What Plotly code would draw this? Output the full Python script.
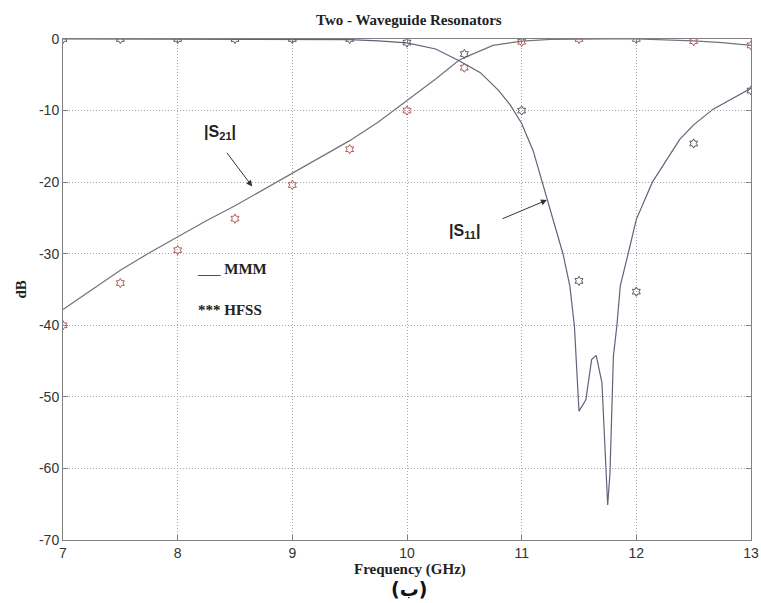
import plotly.graph_objects as go

# ---- data ----
freq_s21 = [7.0, 7.25, 7.5, 7.75, 8.0, 8.25, 8.5, 8.75, 9.0, 9.25, 9.5, 9.75, 10.0,
            10.25, 10.45, 10.5, 10.75, 11.0, 11.25, 11.5, 11.75, 12.0, 12.25, 12.5, 12.75, 13.0]
s21_mmm = [-37.8, -35.0, -32.3, -29.9, -27.6, -25.4, -23.3, -21.0, -18.7, -16.5, -14.2, -11.6, -8.6,
           -5.6, -3.0, -2.6, -0.9, -0.3, -0.06, 0.0, 0.0, 0.0, -0.1, -0.25, -0.5, -0.9]

freq_s11 = [7.0, 8.0, 9.0, 9.25, 9.5, 9.75, 10.0, 10.25, 10.45, 10.64, 10.8, 10.9, 11.0, 11.1,
            11.18, 11.25, 11.30, 11.36, 11.42, 11.46, 11.50, 11.56, 11.61, 11.65, 11.70, 11.75, 11.77,
            11.80, 11.83, 11.86, 11.93, 12.0, 12.14, 12.38, 12.5, 12.67, 13.0]
s11_mmm = [0.0, 0.0, 0.0, -0.02, -0.1, -0.25, -0.55, -1.4, -3.0, -4.7, -7.2, -9.2, -11.8, -15.6,
           -20.0, -24.0, -26.5, -30.0, -34.5, -40.1, -52.0, -50.4, -44.8, -44.2, -48.0, -65.1, -60.7,
           -44.3, -40.1, -34.5, -29.9, -25.2, -20.0, -14.0, -12.0, -9.8, -6.9]

freq_hfss = [7.0, 7.5, 8.0, 8.5, 9.0, 9.5, 10.0, 10.5, 11.0, 11.5, 12.0, 12.5, 13.0]
s21_hfss = [-40.0, -34.1, -29.5, -25.1, -20.4, -15.4, -10.0, -4.0, -0.4, 0.0, 0.0, -0.3, -0.9]
s11_hfss = [0.0, 0.0, 0.0, 0.0, 0.0, 0.0, -0.5, -2.1, -10.0, -33.8, -35.3, -14.6, -7.2]

x_ticks = [7, 8, 9, 10, 11, 12, 13]
x_ticklabels = ["7", "8", "9", "10", "11", "12", "13"]
y_ticks = [0, -10, -20, -30, -40, -50, -60, -70]
y_ticklabels = ["0", "-10", "-20", "-30", "-40", "-50", "-60", "-70"]

fig = go.Figure()
fig.add_trace(go.Scatter(x=freq_s21, y=s21_mmm, mode="lines",
                         line=dict(color="#727280", width=1.2), showlegend=False))
fig.add_trace(go.Scatter(x=freq_s11, y=s11_mmm, mode="lines",
                         line=dict(color="#62627a", width=1.2), showlegend=False))
fig.add_trace(go.Scatter(x=freq_hfss, y=s11_hfss, mode="markers",
                         marker=dict(symbol="hexagram-open", size=7, color="#5a5a5a",
                                     line=dict(width=1)), showlegend=False))
fig.add_trace(go.Scatter(x=freq_hfss, y=s21_hfss, mode="markers",
                         marker=dict(symbol="hexagram-open", size=7, color="#b05a5a",
                                     line=dict(width=1)), showlegend=False))

axis_common = dict(showline=True, linecolor="#808080", linewidth=1, mirror="ticks",
                   ticks="inside", ticklen=5, tickcolor="#808080",
                   showgrid=True, gridcolor="#a8a8a8", griddash="1px,2px", gridwidth=1,
                   zeroline=False, automargin=False,
                   tickfont=dict(family="Liberation Sans, Arial", size=14, color="#333333"))

fig.update_xaxes(range=[7, 13], tickvals=x_ticks, ticktext=x_ticklabels, **axis_common)
fig.update_yaxes(range=[-70, 0], tickvals=y_ticks, ticktext=y_ticklabels, **axis_common)

serif_b = dict(family="Liberation Serif, Times New Roman", size=15, color="#222222")
sans_b = dict(family="Liberation Sans, Arial", size=16, color="#222222")

annotations = [
    # title
    dict(text="<b>Two - Waveguide Resonators</b>", xref="paper", yref="paper",
         x=0.503, y=1.037, xanchor="center", yanchor="middle", showarrow=False, font=serif_b),
    # x axis title
    dict(text="<b>Frequency (GHz)</b>", xref="paper", yref="paper",
         x=0.505, y=-0.058, xanchor="center", yanchor="middle", showarrow=False, font=serif_b),
    # label below
    dict(text="<b>(ب)</b>", xref="paper", yref="paper",
         x=0.503, y=-0.098, xanchor="center", yanchor="middle", showarrow=False,
         font=dict(family="DejaVu Sans, Noto Sans", size=19, color="#111111")),
    # y axis title
    dict(text="<b>dB</b>", xref="paper", yref="paper", textangle=-90,
         x=-0.0625, y=0.5, xanchor="center", yanchor="middle", showarrow=False, font=serif_b),
    # legend-like texts
    dict(text="___ <b>MMM</b>", xref="x", yref="y", x=8.15, y=-32.2,
         xanchor="left", yanchor="middle", showarrow=False, font=serif_b),
    dict(text="<b>*** HFSS</b>", xref="x", yref="y", x=8.16, y=-37.8,
         xanchor="left", yanchor="middle", showarrow=False, font=serif_b),
    # S21 label + arrow
    dict(text="<b>|S<sub>21</sub>|</b>", xref="x", yref="y", x=8.37, y=-13.0,
         xanchor="center", yanchor="middle", showarrow=False, font=sans_b),
    dict(text="", xref="x", yref="y", x=8.65, y=-20.6, axref="x", ayref="y",
         ax=8.42, ay=-15.7, showarrow=True, arrowhead=2, arrowsize=1.2, arrowwidth=1,
         arrowcolor="#333333"),
    # S11 label + arrow
    dict(text="<b>|S<sub>11</sub>|</b>", xref="x", yref="y", x=10.50, y=-26.9,
         xanchor="center", yanchor="middle", showarrow=False, font=sans_b),
    dict(text="", xref="x", yref="y", x=11.22, y=-22.5, axref="x", ayref="y",
         ax=10.82, ay=-25.2, showarrow=True, arrowhead=2, arrowsize=1.2, arrowwidth=1,
         arrowcolor="#333333"),
]

fig.update_layout(width=761, height=603,
                  margin=dict(l=63, r=10, t=39, b=63),
                  paper_bgcolor="white", plot_bgcolor="white",
                  annotations=annotations, showlegend=False)

# remove the default page margin so the 761x603 figure fills the window exactly
fig.write_html("out.html",
               config={"displayModeBar": False},
               post_script="document.body.style.margin='0px';"
                           "document.body.style.overflow='hidden';"
                           "document.documentElement.style.overflow='hidden';")
